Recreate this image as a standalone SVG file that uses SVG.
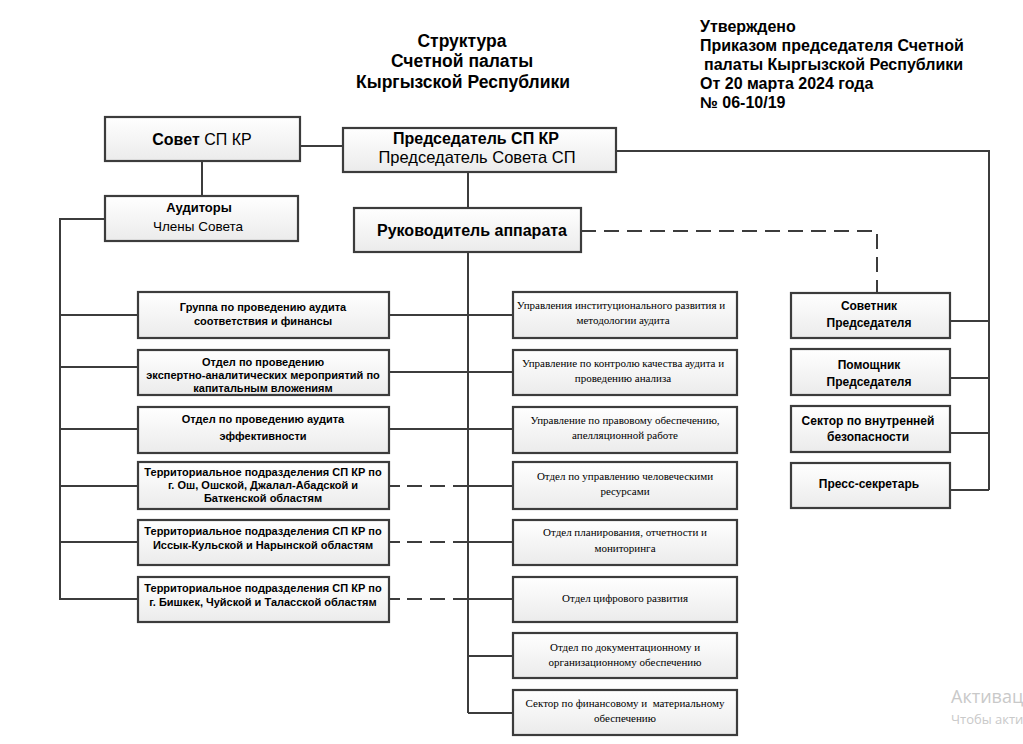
<svg xmlns="http://www.w3.org/2000/svg" width="1023" height="744" viewBox="0 0 1023 744">
<defs>
<linearGradient id="g" x1="0" y1="0" x2="0" y2="1">
<stop offset="0" stop-color="#ffffff"/>
<stop offset="1" stop-color="#ebebeb"/>
</linearGradient>
<style>
.box{fill:url(#g);stroke:#3c3c3c;stroke-width:2.2}
.ln{fill:none;stroke:#3c3c3c;stroke-width:2}
.ds{fill:none;stroke:#3c3c3c;stroke-width:2;stroke-dasharray:15 8}
.h{font-family:"Liberation Sans",Arial,sans-serif;font-weight:bold;fill:#000}
.a{font-family:"Liberation Sans",Arial,sans-serif;fill:#000}
.t{font-family:"Liberation Serif","Times New Roman",serif;font-size:11px;fill:#000;text-anchor:middle}
.l{font-family:"Liberation Sans",Arial,sans-serif;font-weight:bold;font-size:11px;fill:#000;text-anchor:middle}
.r{font-family:"Liberation Sans",Arial,sans-serif;font-weight:bold;font-size:12px;fill:#000;text-anchor:middle}
</style>
</defs>
<rect width="1023" height="744" fill="#fff"/>
<g id="title" class="h" font-size="17.5" text-anchor="middle">
<text x="462" y="47">Структура</text>
<text x="462" y="67">Счетной палаты</text>
<text x="463" y="88">Кыргызской Республики</text>
</g>
<g id="approval" class="h" font-size="16">
<text x="700" y="32">Утверждено</text>
<text x="700" y="51">Приказом председателя Счетной</text>
<text x="704" y="70">палаты Кыргызской Республики</text>
<text x="700" y="89">От 20 марта 2024 года</text>
<text x="700" y="108">№ 06-10/19</text>
</g>
<g id="connectors">
<path class="ln" d="M300 146H343"/>
<path class="ln" d="M202 161V196"/>
<path class="ln" d="M468 172V208"/>
<path class="ln" d="M468 252V713"/>
<path class="ln" d="M616 151H989V490"/>
<path class="ln" d="M950 321H989M950 378H989M950 433H989M950 490H989"/>
<path class="ds" d="M581 231H877V293"/>
<path class="ln" d="M105 219H60V599H138"/>
<path class="ln" d="M60 315H138M60 367H138M60 429H138M60 486H138M60 542H138"/>
<path class="ln" d="M389 315H513M389 372H513M389 429H513"/>
<path class="ln" d="M389 486H400M389 542H400M389 599H400"/>
<path class="ds" d="M407 486H468M407 542H468M407 599H468"/>
<path class="ln" d="M468 486H513M468 542H513M468 599H513M468 656H513M468 713H513"/>
</g>
<g id="sovet"><rect class="box" x="105" y="117" width="195" height="44"/>
<text class="a" x="202" y="145" font-size="16" text-anchor="middle"><tspan font-weight="bold">Совет</tspan> СП КР</text></g>
<g id="predsedatel"><rect class="box" x="343" y="128" width="273" height="44"/>
<text class="h" x="476" y="144" font-size="16" text-anchor="middle">Председатель СП КР</text>
<text class="a" x="477" y="163" font-size="16.5" text-anchor="middle">Председатель Совета СП</text></g>
<g id="auditory"><rect class="box" x="105" y="196" width="193" height="45"/>
<text class="h" x="199" y="212" font-size="13" text-anchor="middle">Аудиторы</text>
<text class="a" x="198" y="231" font-size="13.5" text-anchor="middle">Члены Совета</text></g>
<g id="rukovoditel"><rect class="box" x="354" y="208" width="227" height="44"/>
<text class="h" x="472" y="236" font-size="16" text-anchor="middle">Руководитель аппарата</text></g>
<g id="l1"><rect class="box" x="138" y="292" width="251" height="46"/>
<text class="l" x="263" y="311">Группа по проведению аудита</text>
<text class="l" x="263" y="325">соответствия и финансы</text></g>
<g id="l2"><rect class="box" x="138" y="350" width="251" height="45"/>
<text class="l" x="263" y="366">Отдел по проведению</text>
<text class="l" x="263" y="379">экспертно-аналитических мероприятий по</text>
<text class="l" x="263" y="392">капитальным вложениям</text></g>
<g id="l3"><rect class="box" x="138" y="407" width="251" height="46"/>
<text class="l" x="263" y="423">Отдел по проведению аудита</text>
<text class="l" x="263" y="440">эффективности</text></g>
<g id="l4"><rect class="box" x="138" y="462" width="251" height="47"/>
<text class="l" x="263" y="476">Территориальное подразделения СП КР по</text>
<text class="l" x="263" y="489">г. Ош, Ошской, Джалал-Абадской и</text>
<text class="l" x="263" y="502">Баткенской областям</text></g>
<g id="l5"><rect class="box" x="138" y="520" width="251" height="45"/>
<text class="l" x="263" y="535">Территориальное подразделения СП КР по</text>
<text class="l" x="263" y="549">Иссык-Кульской и Нарынской областям</text></g>
<g id="l6"><rect class="box" x="138" y="577" width="251" height="45"/>
<text class="l" x="263" y="592">Территориальное подразделения СП КР по</text>
<text class="l" x="263" y="606">г. Бишкек, Чуйской и Таласской областям</text></g>
<g id="m1"><rect class="box" x="513" y="292" width="224" height="46"/>
<text class="t" x="621" y="309">Управления институционального развития и</text>
<text class="t" x="623" y="324">методологии аудита</text></g>
<g id="m2"><rect class="box" x="513" y="350" width="224" height="45"/>
<text class="t" x="623" y="367">Управление по контролю качества аудита и</text>
<text class="t" x="623" y="382">проведению анализа</text></g>
<g id="m3"><rect class="box" x="513" y="407" width="224" height="46"/>
<text class="t" x="625" y="424">Управление по правовому обеспечению,</text>
<text class="t" x="625" y="439">апелляционной работе</text></g>
<g id="m4"><rect class="box" x="513" y="462" width="224" height="47"/>
<text class="t" x="625" y="480">Отдел по управлению человеческими</text>
<text class="t" x="625" y="495">ресурсами</text></g>
<g id="m5"><rect class="box" x="513" y="520" width="224" height="45"/>
<text class="t" x="625" y="536">Отдел планирования, отчетности и</text>
<text class="t" x="625" y="552">мониторинга</text></g>
<g id="m6"><rect class="box" x="513" y="577" width="224" height="45"/>
<text class="t" x="625" y="602">Отдел цифрового развития</text></g>
<g id="m7"><rect class="box" x="513" y="633" width="224" height="45"/>
<text class="t" x="625" y="651">Отдел по документационному и</text>
<text class="t" x="625" y="666">организационному обеспечению</text></g>
<g id="m8"><rect class="box" x="513" y="690" width="224" height="45"/>
<text class="t" x="625" y="707" xml:space="preserve">Сектор по финансовому и  материальному</text>
<text class="t" x="625" y="722">обеспечению</text></g>
<g id="r1"><rect class="box" x="791" y="293" width="159" height="45"/>
<text class="r" x="869" y="310">Советник</text>
<text class="r" x="869" y="327">Председателя</text></g>
<g id="r2"><rect class="box" x="791" y="349" width="159" height="46"/>
<text class="r" x="869" y="369">Помощник</text>
<text class="r" x="869" y="386">Председателя</text></g>
<g id="r3"><rect class="box" x="791" y="406" width="159" height="46"/>
<text class="r" x="868" y="425">Сектор по внутренней</text>
<text class="r" x="868" y="441">безопасности</text></g>
<g id="r4"><rect class="box" x="791" y="463" width="159" height="45"/>
<text class="r" x="869" y="488">Пресс-секретарь</text></g>
<g id="watermark" fill="#c9c9c9" font-family="'Open Sans','Liberation Sans',sans-serif">
<text x="951" y="703" font-size="18">Активац</text>
<text x="951" y="724" font-size="13">Чтобы акти</text>
</g>
</svg>
